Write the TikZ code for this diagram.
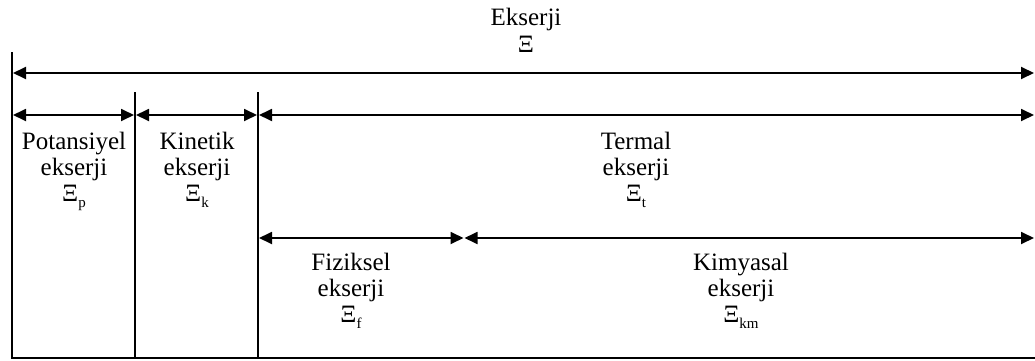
\documentclass[tikz,border=0pt]{standalone}
\usepackage{fontspec}
\setmainfont{Liberation Serif}
\usetikzlibrary{arrows.meta}
\newcommand{\sbx}[1]{\raisebox{-0.25em}{\fontsize{15}{15}\selectfont #1}}
\begin{document}
\begin{tikzpicture}[x=1pt,y=-1pt,
  tipx/.style={Triangle[length=13pt,width=12pt]},
  dimarrow/.style={line width=1.8pt,{Triangle[length=13pt,width=12pt]}-{Triangle[length=13pt,width=12pt]}},
  wall/.style={line width=1.8pt,line cap=rect},
  lbl/.style={align=center,font=\fontsize{25}{26}\selectfont,inner sep=0pt,anchor=north}]
\useasboundingbox (0,0) rectangle (1035,361);
% walls
\coordinate (L0) at (12,53);
\coordinate (LB) at (12,358);
\coordinate (RB) at (1035,358);
\coordinate (V1t) at (135,93);
\coordinate (V1b) at (135,358);
\coordinate (V2t) at (258,93);
\coordinate (V2b) at (258,358);
\draw[wall] (L0) -- (LB);
\draw[line width=1.8pt] (LB) -- (RB);
\draw[wall] (V1t) -- (V1b);
\draw[wall] (V2t) -- (V2b);
% arrows
\coordinate (A1) at (13,73);
\coordinate (A2) at (1034,73);
\draw[dimarrow] (A1) -- (A2);
\coordinate (B0) at (13,115);
\coordinate (B1) at (134,115);
\coordinate (B2) at (136,115);
\coordinate (B3) at (257,115);
\coordinate (B4) at (259,115);
\coordinate (B5) at (1034,115);
\draw[dimarrow] (B0) -- (B1);
\draw[dimarrow] (B2) -- (B3);
\draw[dimarrow] (B4) -- (B5);
\coordinate (C0) at (259,238);
\coordinate (C1) at (463.5,238);
\coordinate (C2) at (464.5,238);
\coordinate (C3) at (1034,238);
\draw[dimarrow] (C0) -- (C1);
\draw[dimarrow] (C2) -- (C3);
% labels
\node[lbl,font=\fontsize{25}{27}\selectfont] (ek) at (526,8) {Ekserji\\Ξ};
\node[lbl] (pot) at (74,132) {Potansiyel\\ekserji\\Ξ\sbx{p}};
\node[lbl] (kin) at (197,132) {Kinetik\\ekserji\\Ξ\sbx{k}};
\node[lbl] (ter) at (636,132) {Termal\\ekserji\\Ξ\sbx{t}};
\node[lbl] (fiz) at (351,253) {Fiziksel\\ekserji\\Ξ\sbx{f}};
\node[lbl] (kim) at (741,253) {Kimyasal\\ekserji\\Ξ\sbx{km}};
\end{tikzpicture}
\end{document}
